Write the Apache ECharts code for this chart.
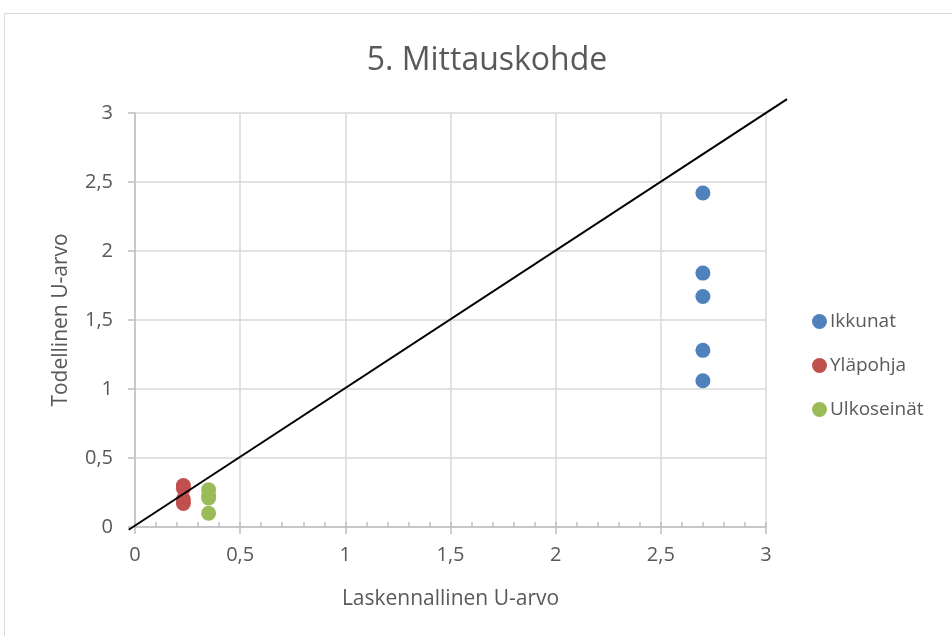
<!DOCTYPE html>
<html>
<head>
<meta charset="utf-8">
<script src="https://cdn.jsdelivr.net/npm/echarts@6/dist/echarts.min.js"></script>
<style>
  html, body { margin: 0; padding: 0; background: #fff; }
  #chart { width: 952px; height: 636px; }
</style>
</head>
<body>
<div id="chart"></div>
<script>
// Measured vs. calculated U-values per building element
const seriesNames = ['Ikkunat', 'Yläpohja', 'Ulkoseinät'];
const seriesColors = ['#4f81bd', '#c0504d', '#9bbb59'];

const ikkunatX = 2.7;
const ikkunatY = [2.42, 1.84, 1.67, 1.28, 1.06];

const ylapohjaX = 0.23;
const ylapohjaY = [0.30, 0.28, 0.20, 0.17];

const ulkoseinatX = 0.35;
const ulkoseinatY = [0.27, 0.23, 0.21, 0.10];

// reference line y = x, drawn slightly past the axis range
const refLine = [[-0.03, -0.02], [3.1, 3.1]];

const xTicks = [0, 0.5, 1, 1.5, 2, 2.5, 3];
const yTicks = [0, 0.5, 1, 1.5, 2, 2.5, 3];

const pairs = (x, ys) => ys.map(y => [x, y]);
const comma = v => String(v).replace('.', ',');

const font = "'Open Sans', 'Noto Sans', sans-serif";
const textColor = '#595959';

const chart = echarts.init(document.getElementById('chart'), null, { renderer: 'canvas' });

chart.setOption({
  animation: false,
  backgroundColor: '#ffffff',
  textStyle: { fontFamily: font, color: textColor },
  title: {
    text: '5. Mittauskohde',
    left: 482,
    top: 40,
    textAlign: 'center',
    textStyle: { fontFamily: font, fontSize: 32, fontWeight: 'normal', color: textColor }
  },
  legend: {
    data: seriesNames,
    orient: 'vertical',
    left: 807,
    top: 307,
    itemGap: 25,
    itemWidth: 15,
    itemHeight: 15,
    icon: 'circle',
    textStyle: { fontFamily: font, fontSize: 19, color: textColor, padding: [0, 0, 0, -2] }
  },
  grid: { left: 135, right: 186, top: 113, bottom: 109, containLabel: false },
  xAxis: [{
    type: 'value',
    min: 0, max: 3, interval: 0.5,
    name: 'Laskennallinen U-arvo',
    nameLocation: 'middle',
    nameGap: 62,
    nameTextStyle: { fontFamily: font, fontSize: 21, color: textColor },
    axisLine: { show: true, lineStyle: { color: '#bfbfbf', width: 1.5 } },
    axisTick: { show: true, length: 7, lineStyle: { color: '#bfbfbf', width: 1.5 } },
    axisLabel: {
      fontFamily: font, fontSize: 20, color: textColor, margin: 18,
      formatter: v => xTicks.includes(v) ? comma(v) : ''
    },
    splitLine: { show: true, lineStyle: { color: '#d9d9d9', width: 1.5 } }
  }, {
    // minor tick marks pointing into the plot
    type: 'value',
    min: 0, max: 3, interval: 0.1,
    position: 'bottom',
    axisLine: { show: false },
    axisTick: { show: true, inside: true, length: 5, lineStyle: { color: '#bfbfbf', width: 1.5 } },
    axisLabel: { show: false },
    splitLine: { show: false }
  }],
  yAxis: {
    type: 'value',
    min: 0, max: 3, interval: 0.5,
    name: 'Todellinen U-arvo',
    nameLocation: 'middle',
    nameGap: 63,
    nameTextStyle: { fontFamily: font, fontSize: 21, color: textColor },
    axisLine: { show: true, lineStyle: { color: '#bfbfbf', width: 1.5 } },
    axisTick: { show: true, length: 7, lineStyle: { color: '#bfbfbf', width: 1.5 } },
    axisLabel: {
      fontFamily: font, fontSize: 20, color: textColor, margin: 22,
      formatter: v => yTicks.includes(v) ? comma(v) : ''
    },
    splitLine: { show: true, lineStyle: { color: '#d9d9d9', width: 1.5 } }
  },
  series: [
    {
      name: seriesNames[0], type: 'scatter', symbolSize: 15,
      itemStyle: { color: seriesColors[0], opacity: 1 },
      data: pairs(ikkunatX, ikkunatY), z: 3
    },
    {
      name: seriesNames[1], type: 'scatter', symbolSize: 15,
      itemStyle: { color: seriesColors[1], opacity: 1 },
      data: pairs(ylapohjaX, ylapohjaY), z: 3
    },
    {
      name: seriesNames[2], type: 'scatter', symbolSize: 15,
      itemStyle: { color: seriesColors[2], opacity: 1 },
      data: pairs(ulkoseinatX, ulkoseinatY), z: 3
    }
  ]
});

// chart frame and the y = x line, placed through the grid's own scales
const p0 = chart.convertToPixel({ xAxisIndex: 0, yAxisIndex: 0 }, refLine[0]);
const p1 = chart.convertToPixel({ xAxisIndex: 0, yAxisIndex: 0 }, refLine[1]);
chart.setOption({
  graphic: [{
    type: 'rect',
    shape: { x: 4.5, y: 13.5, width: 1000, height: 700 },
    style: { fill: 'none', stroke: '#d9d9d9', lineWidth: 1 },
    silent: true,
    z: -10
  }, {
    type: 'line',
    shape: { x1: p0[0], y1: p0[1], x2: p1[0], y2: p1[1] },
    style: { stroke: '#000000', lineWidth: 2 },
    silent: true,
    z: 10
  }]
});
</script>
</body>
</html>
